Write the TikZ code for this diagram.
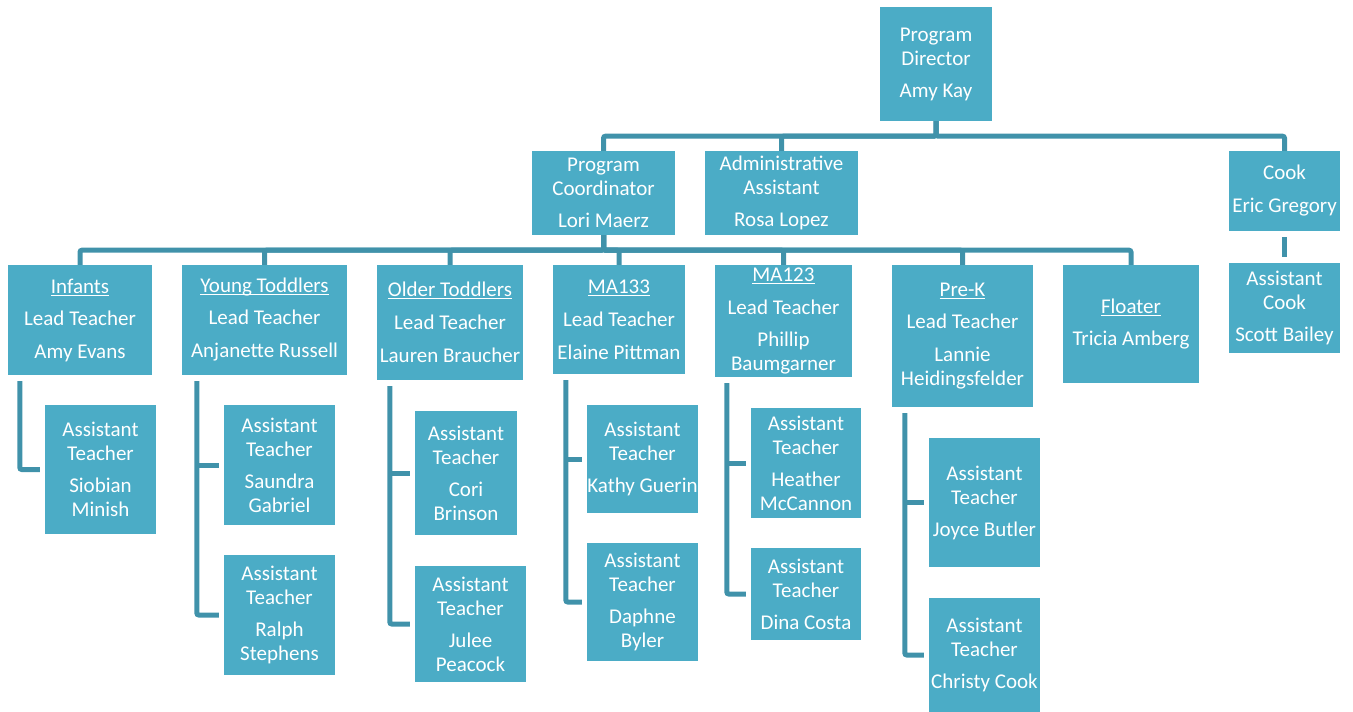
\documentclass[tikz,border=0pt]{standalone}
\usepackage{fontspec}
\setmainfont{Carlito}
\definecolor{orgblue}{RGB}{75,172,198}
\definecolor{orgline}{RGB}{64,146,170}
\newcommand{\ulword}[1]{\setbox0\hbox{#1}\rlap{\rule[-2.5pt]{\wd0}{1pt}}\box0}

\begin{document}
\begin{tikzpicture}[x=1pt,y=-1pt,
  box/.style 2 args={fill=orgblue,text=white,inner sep=0pt,align=center,minimum width=#1,minimum height=#2,font=\fontsize{21}{24}\selectfont},
  link/.style={orgline,line width=5pt,rounded corners=2pt}]
  \useasboundingbox (0,0) rectangle (1353,712);
  % Top level
  \node[box={112pt}{114pt}] (dir) at (936,64) {Program\\Director\\[8pt]Amy Kay};
  \node[box={143pt}{84pt}] (coord) at (603.5,193) {Program\\Coordinator\\[8pt]Lori Maerz};
  \node[box={153pt}{84pt}] (admin) at (781.5,193) {Administrative\\Assistant\\[8pt]Rosa Lopez};
  \node[box={111pt}{80pt}] (cook) at (1284.5,191) {Cook\\[9pt]Eric Gregory};
  \node[box={111pt}{90pt}] (acook) at (1284.5,308) {Assistant\\Cook\\[8pt]Scott Bailey};
  \draw[link] (dir.south) -- ++(0,15) -| (coord.north);
  \draw[link] (dir.south) -- ++(0,15) -| (admin.north);
  \draw[link] (dir.south) -- ++(0,15) -| (cook.north);
  \draw[link] ([yshift=-6pt]cook.south) -- ([yshift=6pt]acook.north);
  % Classrooms
  \node[box={144pt}{110pt}] (inf) at (80,320) {\ulword{Infants}\\[8pt]Lead Teacher\\[9pt]Amy Evans};
  \node[box={165pt}{110pt}] (yt) at (264.5,320) {\ulword{Young Toddlers}\\[8pt]Lead Teacher\\[9pt]Anjanette Russell};
  \node[box={146pt}{115pt}] (ot) at (450,322.5) {\ulword{Older Toddlers}\\[9pt]Lead Teacher\\[9pt]Lauren Braucher};
  \node[box={132pt}{109pt}] (ma133) at (619,319.5) {\ulword{MA133}\\[9pt]Lead Teacher\\[9pt]Elaine Pittman};
  \node[box={137pt}{112pt}] (ma123) at (783.5,321) {\ulword{MA123}\\[9pt]Lead Teacher\\[8pt]Phillip\\Baumgarner};
  \node[box={141pt}{142pt}] (prek) at (962.5,336) {\ulword{Pre-K}\\[8pt]Lead Teacher\\[9pt]Lannie\\Heidingsfelder};
  \node[box={136pt}{118pt}] (float) at (1131,324) {\ulword{Floater}\\[8pt]Tricia Amberg};
  \draw[link] (coord.south) -- ++(0,15) -| (inf.north);
  \draw[link] (coord.south) -- ++(0,15) -| (yt.north);
  \draw[link] (coord.south) -- ++(0,15) -| (ot.north);
  \draw[link] (coord.south) -- ++(0,15) -| (ma133.north);
  \draw[link] (coord.south) -- ++(0,15) -| (ma123.north);
  \draw[link] (coord.south) -- ++(0,15) -| (prek.north);
  \draw[link] (coord.south) -- ++(0,15) -| (float.north);
  % Assistant teachers
  \node[box={111pt}{129pt}] (infa) at (100.5,469.5) {Assistant\\Teacher\\[8pt]Siobian\\Minish};
  \node[box={111pt}{120pt}] (yta) at (279.5,465) {Assistant\\Teacher\\[8pt]Saundra\\Gabriel};
  \node[box={111pt}{120pt}] (ytb) at (279.5,615) {Assistant\\Teacher\\[8pt]Ralph\\Stephens};
  \node[box={102pt}{124pt}] (ota) at (466,473) {Assistant\\Teacher\\[8pt]Cori\\Brinson};
  \node[box={111pt}{116pt}] (otb) at (470.5,624) {Assistant\\Teacher\\[8pt]Julee\\Peacock};
  \node[box={111pt}{108pt}] (ma133a) at (642.5,459) {Assistant\\Teacher\\[8pt]Kathy Guerin};
  \node[box={111pt}{118pt}] (ma133b) at (642.5,602) {Assistant\\Teacher\\[8pt]Daphne\\Byler};
  \node[box={110pt}{110pt}] (ma123a) at (806,463) {Assistant\\Teacher\\[8pt]Heather\\McCannon};
  \node[box={110pt}{92pt}] (ma123b) at (806,594) {Assistant\\Teacher\\[8pt]Dina Costa};
  \node[box={111pt}{129pt}] (preka) at (984.5,502.5) {Assistant\\Teacher\\[8pt]Joyce Butler};
  \node[box={111pt}{114pt}] (prekb) at (984.5,655) {Assistant\\Teacher\\[8pt]Christy Cook};
  \coordinate (infv) at ([xshift=12pt,yshift=-6pt]inf.south west);
  \coordinate (ytv) at ([xshift=15pt,yshift=-6pt]yt.south west);
  \coordinate (otv) at ([xshift=13pt,yshift=-6pt]ot.south west);
  \coordinate (ma133v) at ([xshift=13pt,yshift=-6pt]ma133.south west);
  \coordinate (ma123v) at ([xshift=12pt,yshift=-6pt]ma123.south west);
  \coordinate (prekv) at ([xshift=13pt,yshift=-6pt]prek.south west);
  \draw[link] (infv) |- ([xshift=-5pt]infa.west);
  \draw[link] (ytv) |- ([xshift=-5pt]ytb.west); \draw[link] (ytv |- yta.west) -- ([xshift=-5pt]yta.west);
  \draw[link] (otv) |- ([xshift=-5pt]otb.west); \draw[link] (otv |- ota.west) -- ([xshift=-5pt]ota.west);
  \draw[link] (ma133v) |- ([xshift=-5pt]ma133b.west); \draw[link] (ma133v |- ma133a.west) -- ([xshift=-5pt]ma133a.west);
  \draw[link] (ma123v) |- ([xshift=-5pt]ma123b.west); \draw[link] (ma123v |- ma123a.west) -- ([xshift=-5pt]ma123a.west);
  \draw[link] (prekv) |- ([xshift=-5pt]prekb.west); \draw[link] (prekv |- preka.west) -- ([xshift=-5pt]preka.west);
\end{tikzpicture}
\end{document}
